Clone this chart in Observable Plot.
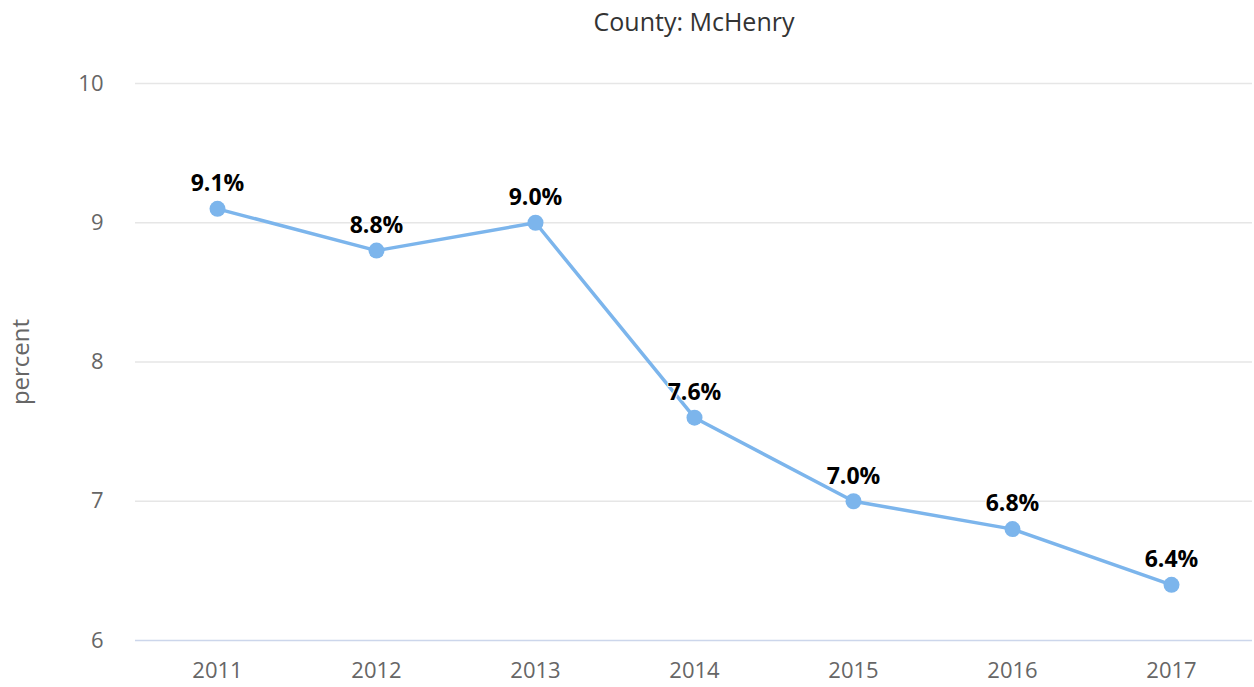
<!DOCTYPE html>
<html>
<head>
<meta charset="utf-8">
<script src="https://cdn.jsdelivr.net/npm/d3@7"></script>
<script src="https://cdn.jsdelivr.net/npm/@observablehq/plot@0.6"></script>
<style>
  html, body { margin: 0; padding: 0; background: #fff; }
  #chart { width: 1254px; height: 687px; }
  svg { font-family: "Open Sans", sans-serif; }
</style>
</head>
<body>
<div id="chart"></div>
<script>
const years = ["2011", "2012", "2013", "2014", "2015", "2016", "2017"];
const values = [9.1, 8.8, 9.0, 7.6, 7.0, 6.8, 6.4];
const yTicks = [6, 7, 8, 9, 10];
const gridTicks = [7, 8, 9, 10];
const titleText = "County: McHenry";
const yLabel = "percent";

const data = years.map((y, i) => ({year: y, value: values[i]}));

const chart = Plot.plot({
  width: 1254,
  height: 687,
  marginTop: 83,
  marginBottom: 47,
  marginLeft: 135,
  marginRight: 2,
  style: {fontFamily: "Open Sans, sans-serif", background: "#fff"},
  x: {type: "point", domain: years, padding: 0.5, label: null},
  y: {domain: [6, 10], label: null},
  marks: [
    Plot.ruleY(gridTicks, {stroke: "#e6e6e6", strokeWidth: 1.5}),
    Plot.ruleY([6], {stroke: "#ccd6eb", strokeWidth: 1.5}),
    Plot.axisY(yTicks, {tickSize: 0, tickPadding: 32, fontSize: 22, fill: "#666", label: null, tickFormat: "d"}),
    Plot.axisX(years, {tickSize: 0, tickPadding: 22, fontSize: 22, fill: "#666", label: null}),
    Plot.text([yLabel], {frameAnchor: "left", textAnchor: "middle", dx: -114, rotate: -90, fontSize: 24, fill: "#666"}),
    Plot.text([titleText], {frameAnchor: "top", dy: -61, lineAnchor: "middle", fontSize: 25, fill: "#333"}),
    Plot.line(data, {x: "year", y: "value", stroke: "#7cb5ec", strokeWidth: 3.5}),
    Plot.dot(data, {x: "year", y: "value", r: 8, fill: "#7cb5ec"}),
    Plot.text(data, {x: "year", y: "value", text: d => d.value.toFixed(1) + "%", dy: -25,
      fontSize: 23, fontWeight: "bold", fill: "#000", stroke: "white", strokeWidth: 2})
  ]
});
document.getElementById("chart").appendChild(chart);
</script>
</body>
</html>
